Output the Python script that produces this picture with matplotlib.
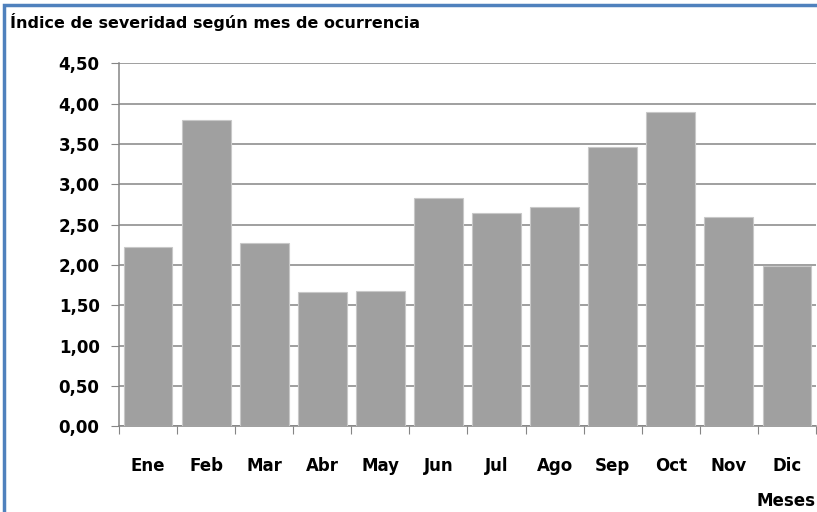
import matplotlib.pyplot as plt
import matplotlib.patches as mpatches
import numpy as np

plt.rcParams['font.family'] = ['Liberation Sans Narrow', 'DejaVu Sans']

# Data
meses = ['Ene', 'Feb', 'Mar', 'Abr', 'May', 'Jun', 'Jul', 'Ago', 'Sep', 'Oct', 'Nov', 'Dic']
indice = [2.22, 3.80, 2.27, 1.66, 1.68, 2.83, 2.65, 2.72, 3.46, 3.90, 2.59, 1.99]
yticks = [0, 0.5, 1.0, 1.5, 2.0, 2.5, 3.0, 3.5, 4.0, 4.5]

fig = plt.figure(figsize=(8.17, 5.12), dpi=100)
ax = fig.add_axes([0.1457, 0.1674, 0.853, 0.709])

x = np.arange(len(meses))
ax.bar(x, indice, width=0.84, color='#a0a0a0', edgecolor='#c8c8c8', linewidth=0.8, zorder=3)

ax.set_xlim(-0.5, len(meses) - 0.5)
ax.set_ylim(0, 4.5)
ax.set_yticks(yticks)
ax.set_yticklabels([f'{v:.2f}'.replace('.', ',') for v in yticks], fontweight='bold', fontsize=12)
ax.yaxis.grid(True, color='#858585', linewidth=1.1, zorder=0)

# category ticks on boundaries, labels at centres
ax.set_xticks(np.arange(-0.5, len(meses), 1.0))
ax.set_xticklabels([])
ax.set_xticks(x, minor=True)
ax.set_xticklabels(meses, minor=True, fontweight='bold', fontsize=12)
ax.tick_params(axis='x', which='minor', length=0, pad=22)
ax.tick_params(axis='x', which='major', length=6, color='#858585', direction='out')
ax.tick_params(axis='y', length=6, color='#858585', pad=8)

for side in ['top', 'right']:
    ax.spines[side].set_visible(False)
for side in ['left', 'bottom']:
    ax.spines[side].set_color('#858585')
    ax.spines[side].set_linewidth(1.1)

fig.text(0.012, 0.957, 'Índice de severidad según mes de ocurrencia',
         fontweight='bold', fontsize=11.5, ha='left', va='center')
fig.text(0.998, 0.022, 'Meses', fontweight='bold', fontsize=12, ha='right', va='center')

# outer blue border of the chart area
border = mpatches.Rectangle((0.005, -0.05), 1.2, 1.04, transform=fig.transFigure,
                            fill=False, edgecolor='#4f81bd', linewidth=2.5, clip_on=False)
fig.patches.append(border)

fig.savefig('out.png', dpi=100)
